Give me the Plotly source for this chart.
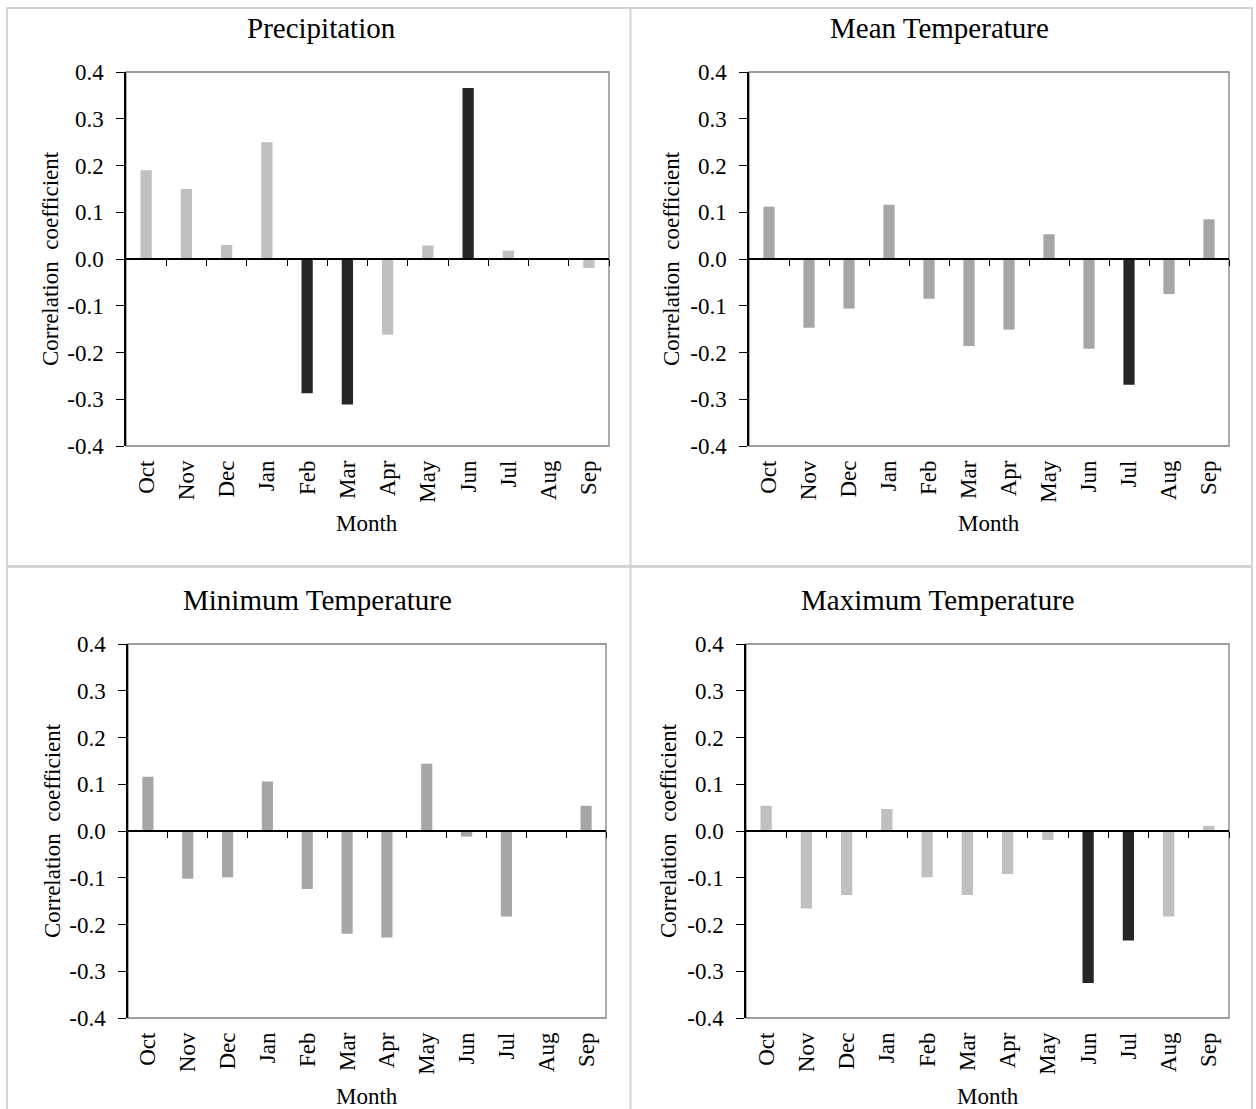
import plotly.graph_objects as go

months = ["Oct", "Nov", "Dec", "Jan", "Feb", "Mar", "Apr", "May", "Jun", "Jul", "Aug", "Sep"]

panel_titles = ["Precipitation", "Mean Temperature", "Minimum Temperature", "Maximum Temperature"]

precipitation = [0.19, 0.15, 0.03, 0.25, -0.287, -0.311, -0.162, 0.029, 0.366, 0.018, 0.0, -0.019]
mean_temp = [0.112, -0.147, -0.106, 0.116, -0.085, -0.186, -0.151, 0.053, -0.192, -0.269, -0.075, 0.085]
min_temp = [0.116, -0.102, -0.099, 0.106, -0.124, -0.220, -0.228, 0.144, -0.012, -0.183, 0.0, 0.054]
max_temp = [0.054, -0.166, -0.137, 0.047, -0.099, -0.137, -0.092, -0.019, -0.325, -0.234, -0.183, 0.011]

# significant months (dark bars)
precip_sig = ["Feb", "Mar", "Jun"]
mean_sig = ["Jul"]
min_sig = []
max_sig = ["Jun", "Jul"]

y_tick_values = [-0.4, -0.3, -0.2, -0.1, 0.0, 0.1, 0.2, 0.3, 0.4]
y_tick_labels = ["-0.4", "-0.3", "-0.2", "-0.1", "0.0", "0.1", "0.2", "0.3", "0.4"]

series = [precipitation, mean_temp, min_temp, max_temp]
sig = [precip_sig, mean_sig, min_sig, max_sig]
base_colors = ["#c0c0c0", "#a6a6a6", "#a6a6a6", "#c0c0c0"]
dark = "#262626"

W, H = 1256, 1109
# pixel boxes of the four plot areas: (left, right, top, bottom)
boxes = [(126, 609, 72, 446), (749, 1229, 72, 446), (128, 606, 644, 1018), (746, 1229, 644, 1018)]
ytitle_x = [50, 671, 52, 668]
title_x = [321, 940, 317, 938]

FONT = "Liberation Serif, Times New Roman, serif"


def aid(n):
    return "" if n == 1 else str(n)


fig = go.Figure()
layout = dict(
    width=W, height=H, margin=dict(l=0, r=0, t=0, b=0, autoexpand=False),
    paper_bgcolor="white", plot_bgcolor="white", showlegend=False,
    font=dict(family=FONT, color="black", size=23),
)
shapes = []
annotations = []

for k in range(4):
    i = k + 1
    L, R, T, B = boxes[k]
    xd = [L / W, R / W]
    yd = [1 - B / H, 1 - T / H]
    colors = [dark if m in sig[k] else base_colors[k] for m in months]
    fig.add_trace(go.Bar(x=months, y=series[k], marker=dict(color=colors, line=dict(width=0)),
                         width=0.28, xaxis="x" + aid(i), yaxis="y" + aid(i), hoverinfo="x+y"))
    layout["xaxis" + aid(i)] = dict(
        domain=xd, anchor="y" + aid(i), type="category", categoryorder="array", categoryarray=months,
        range=[-0.5, 11.5], tickangle=-90, ticks="", showline=False, showgrid=False, zeroline=False,
        tickfont=dict(size=23, family=FONT, color="black"), ticklabelstandoff=9, automargin=False,
    )
    layout["yaxis" + aid(i)] = dict(
        domain=yd, anchor="x" + aid(i), range=[-0.4, 0.4], tickvals=y_tick_values, ticktext=y_tick_labels,
        ticks="outside", ticklen=8, tickcolor="black", tickwidth=1.3,
        showline=True, linecolor="black", linewidth=1.5, showgrid=False, zeroline=False,
        tickfont=dict(size=23, family=FONT, color="black"), ticklabelstandoff=8, automargin=False,
    )
    # zero-line axis with boundary ticks
    zero_pos = yd[0] + (0 - (-0.4)) / 0.8 * (yd[1] - yd[0])
    layout["xaxis" + str(i + 4)] = dict(
        domain=xd, overlaying="x" + aid(i), anchor="free", position=zero_pos, side="bottom",
        range=[-0.5, 11.5], tickvals=[j + 0.5 for j in range(len(months))],
        ticks="outside", ticklen=6, tickcolor="black", tickwidth=1.3,
        showticklabels=False, showline=True, linecolor="black", linewidth=1.5,
        showgrid=False, zeroline=False, automargin=False,
    )
    fig.add_trace(go.Scatter(x=[-0.5, 11.5], y=[0, 0], mode="lines",
                             line=dict(width=0, color="rgba(0,0,0,0)"),
                             xaxis="x" + str(i + 4), yaxis="y" + aid(i), hoverinfo="skip"))
    # grey plot frame
    shapes.append(dict(type="rect", xref="x" + aid(i) + " domain", yref="y" + aid(i) + " domain",
                       x0=0, x1=1, y0=0, y1=1,
                       line=dict(color="#7f7f7f", width=1.3), layer="below"))
    # panel title
    annotations.append(dict(text=panel_titles[k], xref="paper", yref="paper",
                            x=title_x[k] / W, y=1 - (T - 44) / H, xanchor="center", yanchor="middle",
                            showarrow=False, font=dict(size=29, family=FONT, color="black")))
    # y-axis title
    annotations.append(dict(text="Correlation\u00a0 coefficient", xref="paper", yref="paper",
                            x=ytitle_x[k] / W, y=1 - (T + B) / 2 / H, xanchor="center", yanchor="middle",
                            textangle=-90, showarrow=False, font=dict(size=23, family=FONT, color="black")))
    # x-axis title
    annotations.append(dict(text="Month", xref="paper", yref="paper",
                            x=(L + R) / 2 / W, y=1 - (B + 78) / H, xanchor="center", yanchor="middle",
                            showarrow=False, font=dict(size=23, family=FONT, color="black")))

# panel frame and dividers
grey = "#d3d3d3"
shapes.append(dict(type="rect", xref="paper", yref="paper", x0=7 / W, x1=1252 / W, y0=1 - 1120 / H, y1=1 - 8 / H,
                   line=dict(color=grey, width=2), layer="below"))
shapes.append(dict(type="line", xref="paper", yref="paper", x0=630.5 / W, x1=630.5 / W, y0=1 - 1120 / H, y1=1 - 8 / H,
                   line=dict(color=grey, width=2), layer="below"))
shapes.append(dict(type="line", xref="paper", yref="paper", x0=7 / W, x1=1252 / W, y0=1 - 566.5 / H, y1=1 - 566.5 / H,
                   line=dict(color=grey, width=3), layer="below"))

layout["shapes"] = shapes
layout["annotations"] = annotations
fig.update_layout(**layout)

# pin the figure to the top-left corner of the window so the page does not overflow
pin = ("var gd=document.getElementById('{plot_id}');"
       "document.body.style.margin='0';document.body.style.overflow='hidden';"
       "gd.style.position='fixed';gd.style.left='0px';gd.style.top='0px';")
fig.write_html("out.html", post_script=pin, config={"displayModeBar": False})
